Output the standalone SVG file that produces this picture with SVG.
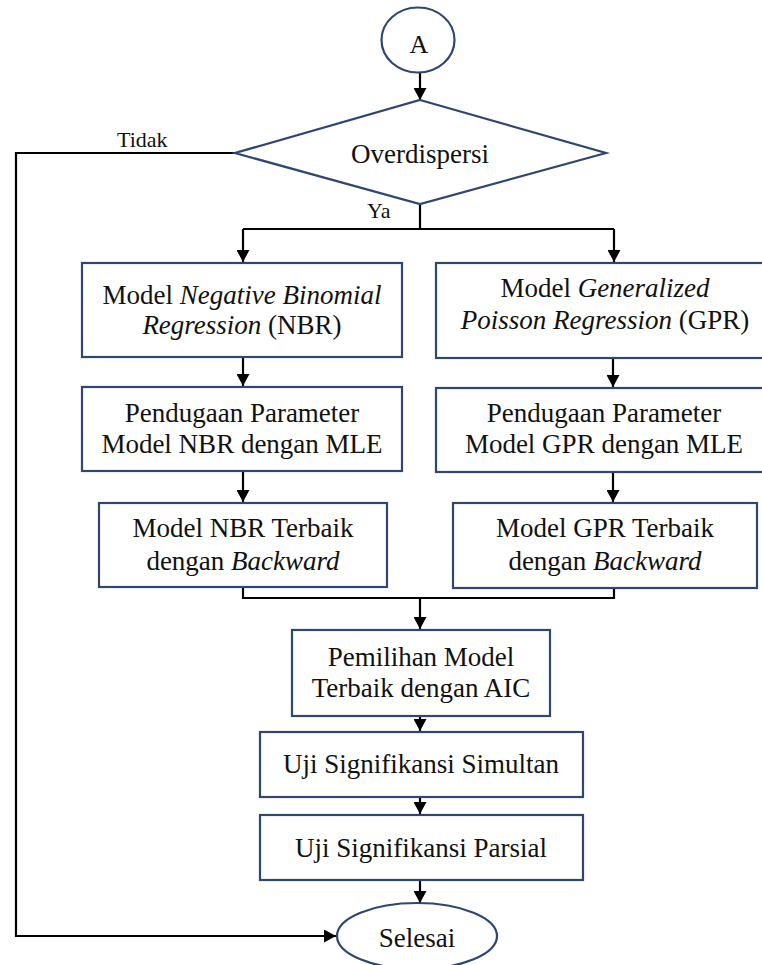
<svg xmlns="http://www.w3.org/2000/svg" width="762" height="965" viewBox="0 0 762 965">
<style>
.box{fill:#fff;stroke:#2e4672;stroke-width:2.2}
.t{font-family:"Liberation Serif","Times New Roman",serif;font-size:27px;fill:#111;text-anchor:middle}
.s{font-family:"Liberation Serif","Times New Roman",serif;font-size:22px;fill:#111}
.ln{fill:none;stroke:#000;stroke-width:2.2}
</style>
<defs>
<marker id="ah" markerWidth="12" markerHeight="13" refX="12" refY="6.5" orient="auto" markerUnits="userSpaceOnUse">
<path d="M0,0 L12,6.5 L0,13 Z" fill="#000"/>
</marker>
</defs>
<rect width="762" height="965" fill="#fff"/>
<g id="connectors">
<path class="ln" d="M420,72 V100" marker-end="url(#ah)"/>
<path class="ln" d="M235,153 H16 V936 H336" marker-end="url(#ah)"/>
<path class="ln" d="M420,204 V229"/>
<path class="ln" d="M243,229 H614"/>
<path class="ln" d="M243,229 V262" marker-end="url(#ah)"/>
<path class="ln" d="M614,229 V262" marker-end="url(#ah)"/>
<path class="ln" d="M243,357 V386" marker-end="url(#ah)"/>
<path class="ln" d="M613,358 V387" marker-end="url(#ah)"/>
<path class="ln" d="M243,471 V502" marker-end="url(#ah)"/>
<path class="ln" d="M613,472 V502" marker-end="url(#ah)"/>
<path class="ln" d="M243,587 V598 H614 V588"/>
<path class="ln" d="M420,598 V629" marker-end="url(#ah)"/>
<path class="ln" d="M420,716 V731" marker-end="url(#ah)"/>
<path class="ln" d="M420,797 V814" marker-end="url(#ah)"/>
<path class="ln" d="M420,880 V903" marker-end="url(#ah)"/>
<text class="s" x="117" y="147">Tidak</text>
<text class="s" x="367" y="218">Ya</text>
</g>
<g id="start">
<ellipse class="box" cx="418" cy="40" rx="36.5" ry="32.5"/>
<text class="t" x="419" y="53" style="font-size:26px">A</text>
</g>
<g id="decision">
<polygon class="box" points="420,100 606,153 420,204 235,153"/>
<text class="t" x="420" y="163">Overdispersi</text>
</g>
<g id="nbr">
<rect class="box" x="82" y="263" width="320" height="94"/>
<text class="t" x="242" y="304">Model <tspan font-style="italic">Negative Binomial</tspan></text>
<text class="t" x="242" y="334"><tspan font-style="italic">Regression</tspan> (NBR)</text>
</g>
<g id="gpr">
<rect class="box" x="436" y="263" width="340" height="95"/>
<text class="t" x="605" y="297">Model <tspan font-style="italic">Generalized</tspan></text>
<text class="t" x="605" y="329"><tspan font-style="italic">Poisson Regression</tspan> (GPR)</text>
</g>
<g id="est-nbr">
<rect class="box" x="82" y="387" width="320" height="84"/>
<text class="t" x="242" y="422">Pendugaan Parameter</text>
<text class="t" x="242" y="453">Model NBR dengan MLE</text>
</g>
<g id="est-gpr">
<rect class="box" x="436" y="388" width="340" height="84"/>
<text class="t" x="604" y="422">Pendugaan Parameter</text>
<text class="t" x="604" y="453">Model GPR dengan MLE</text>
</g>
<g id="best-nbr">
<rect class="box" x="99" y="503" width="288" height="84"/>
<text class="t" x="243" y="537">Model NBR Terbaik</text>
<text class="t" x="243" y="570">dengan <tspan font-style="italic">Backward</tspan></text>
</g>
<g id="best-gpr">
<rect class="box" x="453" y="503" width="304" height="85"/>
<text class="t" x="605" y="537">Model GPR Terbaik</text>
<text class="t" x="605" y="570">dengan <tspan font-style="italic">Backward</tspan></text>
</g>
<g id="aic">
<rect class="box" x="292" y="630" width="258" height="86"/>
<text class="t" x="421" y="666">Pemilihan Model</text>
<text class="t" x="421" y="697">Terbaik dengan AIC</text>
</g>
<g id="simultan">
<rect class="box" x="260" y="732" width="323" height="65"/>
<text class="t" x="421" y="773">Uji Signifikansi Simultan</text>
</g>
<g id="parsial">
<rect class="box" x="260" y="815" width="323" height="65"/>
<text class="t" x="421" y="857">Uji Signifikansi Parsial</text>
</g>
<g id="end">
<ellipse class="box" cx="417" cy="936" rx="80" ry="33"/>
<text class="t" x="417" y="947">Selesai</text>
</g>
</svg>
